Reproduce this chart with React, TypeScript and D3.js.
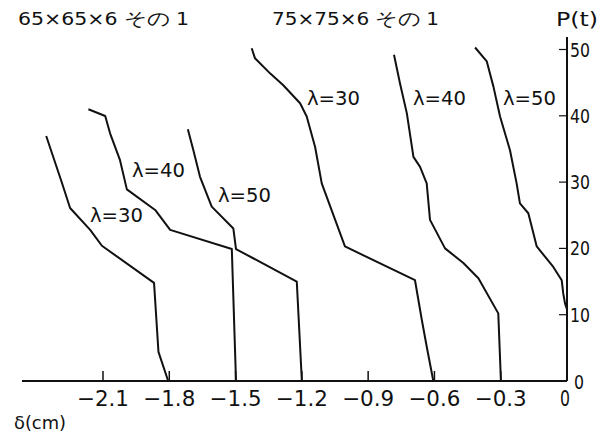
import React from "react";
import * as d3 from "d3";

// 65×65×6 その1
const a30_delta = [-2.357, -2.286, -2.249, -2.158, -2.105, -1.869, -1.849, -1.805];
const a30_P = [36.95, 29.9, 26.1, 22.8, 20.4, 14.8, 4.4, 0];
const a40_delta = [-2.166, -2.09, -2.068, -2.023, -1.992, -1.864, -1.796, -1.517, -1.498];
const a40_P = [40.98, 39.97, 37.36, 33.3, 28.9, 25.8, 22.8, 19.9, 0];
const a50_delta = [-1.716, -1.691, -1.661, -1.608, -1.51, -1.498, -1.223, -1.2];
const a50_P = [37.96, 34.8, 30.8, 26.3, 23.0, 19.9, 15.0, 0];

// 75×75×6 その1
const b30_delta = [-1.427, -1.412, -1.344, -1.284, -1.208, -1.178, -1.14, -1.11, -1.005, -0.688, -0.657, -0.635, -0.605];
const b30_P = [50.18, 48.67, 46.4, 44.6, 41.9, 39.9, 35.3, 29.8, 20.3, 15.2, 9.2, 5.2, 0];
const b40_delta = [-0.783, -0.756, -0.725, -0.695, -0.665, -0.635, -0.62, -0.552, -0.469, -0.401, -0.311, -0.299];
const b40_P = [49.2, 44.9, 40.4, 33.8, 32.3, 29.8, 24.3, 20.0, 17.8, 15.5, 10.2, 0];
const b50_delta = [-0.416, -0.363, -0.333, -0.303, -0.258, -0.228, -0.213, -0.175, -0.137, -0.062, -0.024, -0.017, -0.009, 0];
const b50_P = [50.3, 48.2, 44.4, 39.9, 34.8, 29.8, 26.8, 25.3, 20.3, 17.2, 15.2, 13.2, 11.7, 10.8];

const xTicks = [-2.1, -1.8, -1.5, -1.2, -0.9, -0.6, -0.3, 0];
const xTickLabels = ["−2.1", "−1.8", "−1.5", "−1.2", "−0.9", "−0.6", "−0.3", "0"];
const yTicks = [10, 20, 30, 40, 50];
const yTickLabels = ["10", "20", "30", "40", "50"];

const titles = ["65×65×6 その 1", "75×75×6 その 1"];
const curveLabels = ["λ=30", "λ=40", "λ=50", "λ=30", "λ=40", "λ=50"];

const W = 616;
const H = 434;
const FONT = "'Liberation Sans Narrow', 'DejaVu Sans Condensed', 'Liberation Sans', sans-serif";

export default function App() {
  const x = d3.scaleLinear().domain([-2.1, 0]).range([103, 567]);
  const y = d3.scaleLinear().domain([0, 50]).range([381, 49.5]);
  const line = d3
    .line<[number, number]>()
    .x((d) => x(d[0]))
    .y((d) => y(d[1]));

  const series: [number[], number[]][] = [
    [a30_delta, a30_P],
    [a40_delta, a40_P],
    [a50_delta, a50_P],
    [b30_delta, b30_P],
    [b40_delta, b40_P],
    [b50_delta, b50_P],
  ];
  const labelPos = [
    [90, 222],
    [132, 177],
    [218, 202],
    [307, 105],
    [413, 105],
    [503, 105],
  ];

  return (
    <svg
      width={W}
      height={H}
      style={{ position: "absolute", left: 0, top: 0, background: "#fff" }}
      fontFamily={FONT}
    >
      <rect width={W} height={H} fill="#fff" />
      {/* axes */}
      <line x1={22} x2={x(0)} y1={y(0)} y2={y(0)} stroke="#111" strokeWidth={2} />
      <line x1={x(0)} x2={x(0)} y1={y(0)} y2={37} stroke="#111" strokeWidth={2} />
      {xTicks.slice(0, -1).map((t) => (
        <line key={"xt" + t} x1={x(t)} x2={x(t)} y1={y(0)} y2={y(0) - 10} stroke="#111" strokeWidth={1.5} />
      ))}
      {yTicks.map((t) => (
        <line key={"yt" + t} x1={x(0) - 8} x2={x(0)} y1={y(t)} y2={y(t)} stroke="#111" strokeWidth={1.2} />
      ))}
      {xTicks.slice(0, -1).map((t, i) => (
        <text
          key={"xl" + t}
          x={x(t)}
          y={406}
          textAnchor="middle"
          fontSize={21}
          textLength={52}
          lengthAdjust="spacingAndGlyphs"
          fill="#111"
        >
          {xTickLabels[i]}
        </text>
      ))}
      <text x={x(0) - 2} y={406} textAnchor="middle" fontSize={21} fill="#111" textLength={10} lengthAdjust="spacingAndGlyphs">
        {xTickLabels[7]}
      </text>
      <text x={574} y={389} fontSize={19} fill="#111" textLength={10} lengthAdjust="spacingAndGlyphs">0</text>
      {yTicks.map((t, i) => (
        <text
          key={"yl" + t}
          x={570}
          y={y(t) + 7}
          fontSize={19}
          fill="#111"
          textLength={20}
          lengthAdjust="spacingAndGlyphs"
        >
          {yTickLabels[i]}
        </text>
      ))}
      <text x={556} y={26} fontSize={20} fill="#111" textLength={42} lengthAdjust="spacingAndGlyphs">P(t)</text>
      <text x={14} y={429} fontSize={18} fill="#111" textLength={52} lengthAdjust="spacingAndGlyphs">δ(cm)</text>
      <text x={18} y={25} fontSize={18} fill="#111" textLength={171} lengthAdjust="spacingAndGlyphs">
        {titles[0]}
      </text>
      <text x={272} y={25} fontSize={18} fill="#111" textLength={167} lengthAdjust="spacingAndGlyphs">
        {titles[1]}
      </text>
      {series.map(([dx, py], i) => (
        <path
          key={"s" + i}
          d={line(dx.map((v, j) => [v, py[j]] as [number, number])) || ""}
          fill="none"
          stroke="#111"
          strokeWidth={2}
          strokeLinejoin="round"
        />
      ))}
      {curveLabels.map((l, i) => (
        <text
          key={"cl" + i}
          x={labelPos[i][0]}
          y={labelPos[i][1]}
          fontSize={19}
          fill="#111"
          textLength={53}
          lengthAdjust="spacingAndGlyphs"
        >
          {l}
        </text>
      ))}
    </svg>
  );
}
